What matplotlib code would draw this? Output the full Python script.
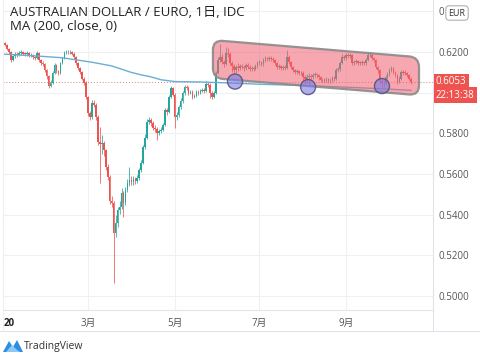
import matplotlib
matplotlib.use("Agg")
import matplotlib.pyplot as plt
import matplotlib.transforms as mtransforms
from matplotlib.patches import FancyBboxPatch, Ellipse, Rectangle, Polygon
from matplotlib.lines import Line2D
import numpy as np

# ---------------- data ----------------
first_open = 0.6260
closes = [
0.6245,0.6235,0.6215,0.6200,0.6160,0.6180,0.6190,0.6185,0.6195,0.6198,
0.6192,0.6190,0.6195,0.6185,0.6188,0.6175,0.6170,0.6195,0.6160,0.6146,
0.6140,0.6110,0.6080,0.6035,0.6050,0.6097,0.6136,0.6105,0.6097,0.6146,
0.6170,0.6195,0.6200,0.6198,0.6200,0.6192,0.6175,0.6146,0.6120,0.6102,
0.6070,0.6050,0.5979,0.5900,0.5880,0.5950,0.5940,0.5880,0.5760,0.5750,
0.5753,0.5718,0.5635,0.5586,0.5470,0.5460,0.5310,0.5360,0.5424,0.5440,
0.5507,0.5460,0.5520,0.5556,0.5570,0.5560,0.5575,0.5565,0.5580,0.5620,
0.5655,0.5733,0.5780,0.5856,0.5866,0.5850,0.5827,0.5820,0.5800,0.5810,
0.5817,0.5840,0.5915,0.5905,0.5980,0.6023,0.5990,0.5880,0.5890,0.5930,
0.5960,0.5998,0.6030,0.6025,0.6000,0.6005,0.5979,0.5985,0.6004,0.6000,
0.6010,0.6015,0.6010,0.6045,0.6040,0.6000,0.5980,0.6000,0.6097,0.6160,
0.6175,0.6150,0.6140,0.6195,0.6190,0.6146,0.6130,0.6110,0.6126,0.6120,
0.6130,0.6126,0.6120,0.6135,0.6125,0.6115,0.6120,0.6118,0.6130,0.6146,
0.6150,0.6140,0.6160,0.6170,0.6165,0.6172,0.6168,0.6160,0.6146,0.6126,
0.6130,0.6120,0.6128,0.6120,0.6175,0.6150,0.6126,0.6110,0.6100,0.6105,
0.6095,0.6098,0.6075,0.6070,0.6077,0.6080,0.6077,0.6087,0.6090,0.6085,
0.6075,0.6062,0.6065,0.6060,0.6066,0.6058,0.6062,0.6072,0.6070,0.6110,
0.6115,0.6146,0.6175,0.6170,0.6185,0.6180,0.6185,0.6146,0.6150,0.6155,
0.6148,0.6146,0.6150,0.6145,0.6160,0.6185,0.6188,0.6170,0.6160,0.6126,
0.6110,0.6060,0.6050,0.6047,0.6077,0.6090,0.6110,0.6120,0.6100,0.6087,
0.6053,0.6070,0.6100,0.6098,0.6097,0.6085,0.6070,0.6053]
highs = [
0.6265,0.6250,0.6240,0.6220,0.6205,0.6188,0.6200,0.6202,0.6205,0.6208,
0.6205,0.6200,0.6204,0.6200,0.6196,0.6192,0.6182,0.6203,0.6200,0.6166,
0.6155,0.6145,0.6118,0.6085,0.6062,0.6105,0.6145,0.6140,0.6112,0.6152,
0.6178,0.6203,0.6212,0.6208,0.6210,0.6206,0.6198,0.6180,0.6152,0.6128,
0.6108,0.6078,0.6056,0.5985,0.5910,0.5962,0.5962,0.5950,0.5890,0.5830,
0.5790,0.5765,0.5725,0.5650,0.5595,0.5490,0.5470,0.5400,0.5440,0.5470,
0.5530,0.5515,0.5535,0.5575,0.5635,0.5590,0.5590,0.5585,0.5595,0.5630,
0.5668,0.5745,0.5795,0.5870,0.5880,0.5878,0.5860,0.5840,0.5830,0.5822,
0.5830,0.5852,0.5925,0.5925,0.5990,0.6035,0.6030,0.5998,0.5905,0.5940,
0.5972,0.6008,0.6040,0.6040,0.6032,0.6015,0.6012,0.5995,0.6012,0.6012,
0.6020,0.6025,0.6022,0.6058,0.6055,0.6048,0.6008,0.6010,0.6105,0.6175,
0.6240,0.6190,0.6160,0.6225,0.6218,0.6198,0.6155,0.6140,0.6138,0.6145,
0.6142,0.6140,0.6135,0.6148,0.6145,0.6135,0.6132,0.6130,0.6142,0.6158,
0.6162,0.6158,0.6172,0.6180,0.6178,0.6182,0.6180,0.6175,0.6165,0.6152,
0.6140,0.6138,0.6138,0.6136,0.6210,0.6185,0.6158,0.6132,0.6118,0.6115,
0.6112,0.6108,0.6105,0.6085,0.6090,0.6095,0.6092,0.6098,0.6102,0.6098,
0.6092,0.6082,0.6075,0.6072,0.6076,0.6072,0.6072,0.6082,0.6082,0.6120,
0.6128,0.6158,0.6192,0.6188,0.6195,0.6195,0.6195,0.6190,0.6162,0.6165,
0.6162,0.6158,0.6162,0.6158,0.6172,0.6200,0.6200,0.6195,0.6178,0.6166,
0.6132,0.6115,0.6068,0.6062,0.6088,0.6102,0.6122,0.6130,0.6126,0.6105,
0.6092,0.6082,0.6112,0.6112,0.6110,0.6102,0.6090,0.6078]
lows = [
0.6238,0.6228,0.6208,0.6192,0.6150,0.6155,0.6172,0.6176,0.6180,0.6186,
0.6185,0.6182,0.6183,0.6178,0.6178,0.6168,0.6162,0.6165,0.6152,0.6138,
0.6130,0.6100,0.6070,0.6025,0.6028,0.6045,0.6090,0.6098,0.6088,0.6092,
0.6140,0.6165,0.6190,0.6190,0.6192,0.6185,0.6168,0.6138,0.6112,0.6094,
0.6062,0.6040,0.5968,0.5888,0.5866,0.5872,0.5928,0.5868,0.5745,0.5556,
0.5700,0.5690,0.5620,0.5570,0.5455,0.5440,0.5065,0.5290,0.5340,0.5405,
0.5430,0.5390,0.5450,0.5510,0.5540,0.5545,0.5548,0.5550,0.5555,0.5570,
0.5610,0.5648,0.5725,0.5772,0.5845,0.5838,0.5815,0.5808,0.5770,0.5792,
0.5800,0.5810,0.5835,0.5890,0.5900,0.5972,0.5982,0.5828,0.5865,0.5882,
0.5922,0.5952,0.5990,0.6015,0.5990,0.5992,0.5970,0.5972,0.5978,0.5990,
0.5993,0.6002,0.6000,0.6005,0.6028,0.5975,0.5970,0.5972,0.5995,0.6090,
0.6150,0.6140,0.6128,0.6135,0.6175,0.6135,0.6100,0.6092,0.6098,0.6108,
0.6112,0.6115,0.6108,0.6112,0.6115,0.6105,0.6106,0.6108,0.6110,0.6122,
0.6138,0.6130,0.6132,0.6152,0.6156,0.6158,0.6158,0.6150,0.6136,0.6116,
0.6118,0.6110,0.6112,0.6110,0.6115,0.6140,0.6116,0.6100,0.6090,0.6092,
0.6085,0.6086,0.6065,0.6040,0.6050,0.6035,0.6065,0.6070,0.6078,0.6075,
0.6065,0.6052,0.6055,0.6050,0.6052,0.6048,0.6050,0.6055,0.6060,0.6065,
0.6102,0.6108,0.6140,0.6160,0.6162,0.6170,0.6172,0.6138,0.6138,0.6142,
0.6138,0.6136,0.6138,0.6135,0.6138,0.6155,0.6175,0.6162,0.6150,0.6115,
0.6098,0.6045,0.6025,0.6030,0.6040,0.6070,0.6082,0.6102,0.6092,0.6078,
0.6045,0.6048,0.6065,0.6088,0.6088,0.6076,0.6062,0.6045]
opens = [first_open] + closes[:-1]

ma_idx = [0, 15, 30, 45, 55, 65, 70, 75, 80, 87, 100, 115, 130, 150, 160, 180, 195, 207]
ma_val = [0.6190, 0.6182, 0.6172, 0.6150, 0.6132, 0.6100, 0.6088, 0.6078, 0.6064,
          0.6055, 0.6053, 0.6048, 0.6042, 0.6036, 0.6033, 0.6025, 0.6018, 0.6012]

month_pos = [0, 43, 87, 130, 174]
month_labels = ["20", "3月", "5月", "7月", "9月"]
y_ticks = [0.50, 0.52, 0.54, 0.56, 0.58, 0.60, 0.62, 0.64]
# labels as visible in the reference (0.6000 hidden by the timer, 0.6400 by the EUR tag)
y_tick_labels = ["0.5000", "0.5200", "0.5400", "0.5600", "0.5800", "", "0.6200", "0"]
last_price = 0.6053
timer_text = "22:13:38"
circle_pos = [(117.6, 0.6055), (154.7, 0.6028), (192.2, 0.6033)]

# ---------------- figure ----------------
W, H = 480, 355
fig = plt.figure(figsize=(W/100, H/100), dpi=100)
fig.patch.set_facecolor("white")
def fx(px): return px / W
def fy(py): return 1 - py / H

ax = fig.add_axes([fx(3), fy(310), fx(433) - fx(3), fy(0) - fy(310)])
ax.set_xlim(-0.15, 218.1)
ax.set_ylim(0.4932, 0.6456)

GREEN, RED = "#26a69a", "#ef5350"
n = len(closes)
x = np.arange(n)
o = np.array(opens); c = np.array(closes)
cols = [GREEN if cc >= oo else RED for oo, cc in zip(o, c)]
ax.vlines(x, lows, highs, colors=cols, linewidth=0.55, zorder=3)
bottoms = np.minimum(o, c)
heights = np.maximum(np.abs(c - o), 0.0003)
ax.bar(x, heights, bottom=bottoms, width=0.8, color=cols, linewidth=0, zorder=4)

ax.plot(ma_idx, ma_val, color="#6aaed6", linewidth=1.0, zorder=5)
ax.axhline(last_price, color="#e07a7a", linewidth=0.7, linestyle=(0, (1, 2)), zorder=2)

# grid
ax.set_yticks(y_ticks)
ax.set_xticks(month_pos)
ax.grid(True, color="#eef0f4", linewidth=0.8, zorder=0)
ax.set_axisbelow(True)
for s in ["top", "left"]:
    ax.spines[s].set_visible(False)
ax.spines["right"].set_color("#e0e3eb")
ax.spines["bottom"].set_color("#e0e3eb")
ax.spines["right"].set_linewidth(0.8)
ax.spines["bottom"].set_linewidth(0.8)

cjk = ["Open Sans", "Noto Sans CJK JP", "DejaVu Sans"]
ax.yaxis.tick_right()
ax.tick_params(axis="y", length=0, pad=4, labelsize=7, labelcolor="#555555")
ax.set_yticklabels(y_tick_labels, family="Open Sans")
ax.tick_params(axis="x", length=0, pad=6, labelsize=7, labelcolor="#555555")
ax.set_xticklabels(month_labels, family=cjk)
xl = ax.get_xticklabels()
xl[0].set_ha("left"); xl[0].set_fontweight("bold"); xl[0].set_color("#222222")

# highlight box (sloped rounded rectangle)
bx0, by0, bw, bh = 106.4, 0.6072, 104.6, 0.0187
slope = 8.07e-5
skew = mtransforms.Affine2D(np.array([[1, 0, 0], [-slope, 1, slope * bx0], [0, 0, 1]]))
box = FancyBboxPatch((bx0, by0), bw, bh,
                     boxstyle="round,pad=0,rounding_size=5", mutation_aspect=0.000968,
                     facecolor="#f06070", alpha=0.55, edgecolor="none",
                     transform=skew + ax.transData, zorder=6)
ax.add_patch(box)
box_e = FancyBboxPatch((bx0, by0), bw, bh,
                       boxstyle="round,pad=0,rounding_size=5", mutation_aspect=0.000968,
                       facecolor="none", edgecolor="#8a8a8a", linewidth=1.6, alpha=0.9,
                       transform=skew + ax.transData, zorder=7)
ax.add_patch(box_e)

for cx, cy in circle_pos:
    ax.add_patch(Ellipse((cx, cy), 7.6, 0.0074, facecolor="#7b7be8", alpha=0.6,
                         edgecolor="none", zorder=8))
    ax.add_patch(Ellipse((cx, cy), 7.6, 0.0074, facecolor="none",
                         edgecolor="#55557a", linewidth=1.0, alpha=0.9, zorder=9))

# right-axis labels
bt = mtransforms.blended_transform_factory(fig.transFigure, ax.transData)
ax.text(fx(436), last_price, f"{last_price:.4f}", transform=bt, ha="left", va="center",
        fontsize=7, color="white", family="Open Sans", clip_on=False, zorder=20,
        bbox=dict(boxstyle="square,pad=0.25", fc=RED, ec="none"))
ax.text(fx(436), last_price - 0.0065, timer_text, transform=bt, ha="left", va="center",
        fontsize=7, color="white", family="Open Sans", clip_on=False, zorder=20,
        bbox=dict(boxstyle="square,pad=0.25", fc=RED, ec="none"))
fig.text(fx(457), fy(13), "EUR", ha="center", va="center", fontsize=6.5, color="#333333",
         family="Open Sans", zorder=20,
         bbox=dict(boxstyle="round,pad=0.3,rounding_size=0.4", fc="white", ec="#b0b0b0", lw=0.8))

# frame lines
fig.add_artist(Line2D([fx(0), fx(480)], [fy(331), fy(331)], color="#e0e3eb", lw=0.8))
fig.add_artist(Line2D([fx(433), fx(433)], [fy(310), fy(331)], color="#e0e3eb", lw=0.8))
fig.add_artist(Line2D([fx(3), fx(3)], [fy(0), fy(331)], color="#eef0f4", lw=0.8))

# titles
fig.text(fx(10), fy(13), "AUSTRALIAN DOLLAR / EURO, 1日, IDC", ha="left", va="center",
         fontsize=9.5, color="#222222", family=cjk)
fig.text(fx(10), fy(27), "MA (200, close, 0)", ha="left", va="center",
         fontsize=9.5, color="#222222", family=cjk)

# TradingView logo
logo1 = Polygon([[fx(3), fy(352)], [fx(9), fy(341)], [fx(13), fy(347)], [fx(17), fy(340)],
                 [fx(23), fy(352)]], closed=True, fc="#2a8fe0", ec="none", transform=fig.transFigure)
logo2 = Polygon([[fx(6), fy(352)], [fx(12), fy(345)], [fx(16), fy(349)], [fx(20), fy(352)]],
                closed=True, fc="#8cc8f5", ec="none", transform=fig.transFigure)
fig.add_artist(logo1); fig.add_artist(logo2)
fig.text(fx(24), fy(346), "TradingView", ha="left", va="center", fontsize=7.5,
         color="#333333", family="Open Sans")

fig.savefig("out.png", dpi=100)
